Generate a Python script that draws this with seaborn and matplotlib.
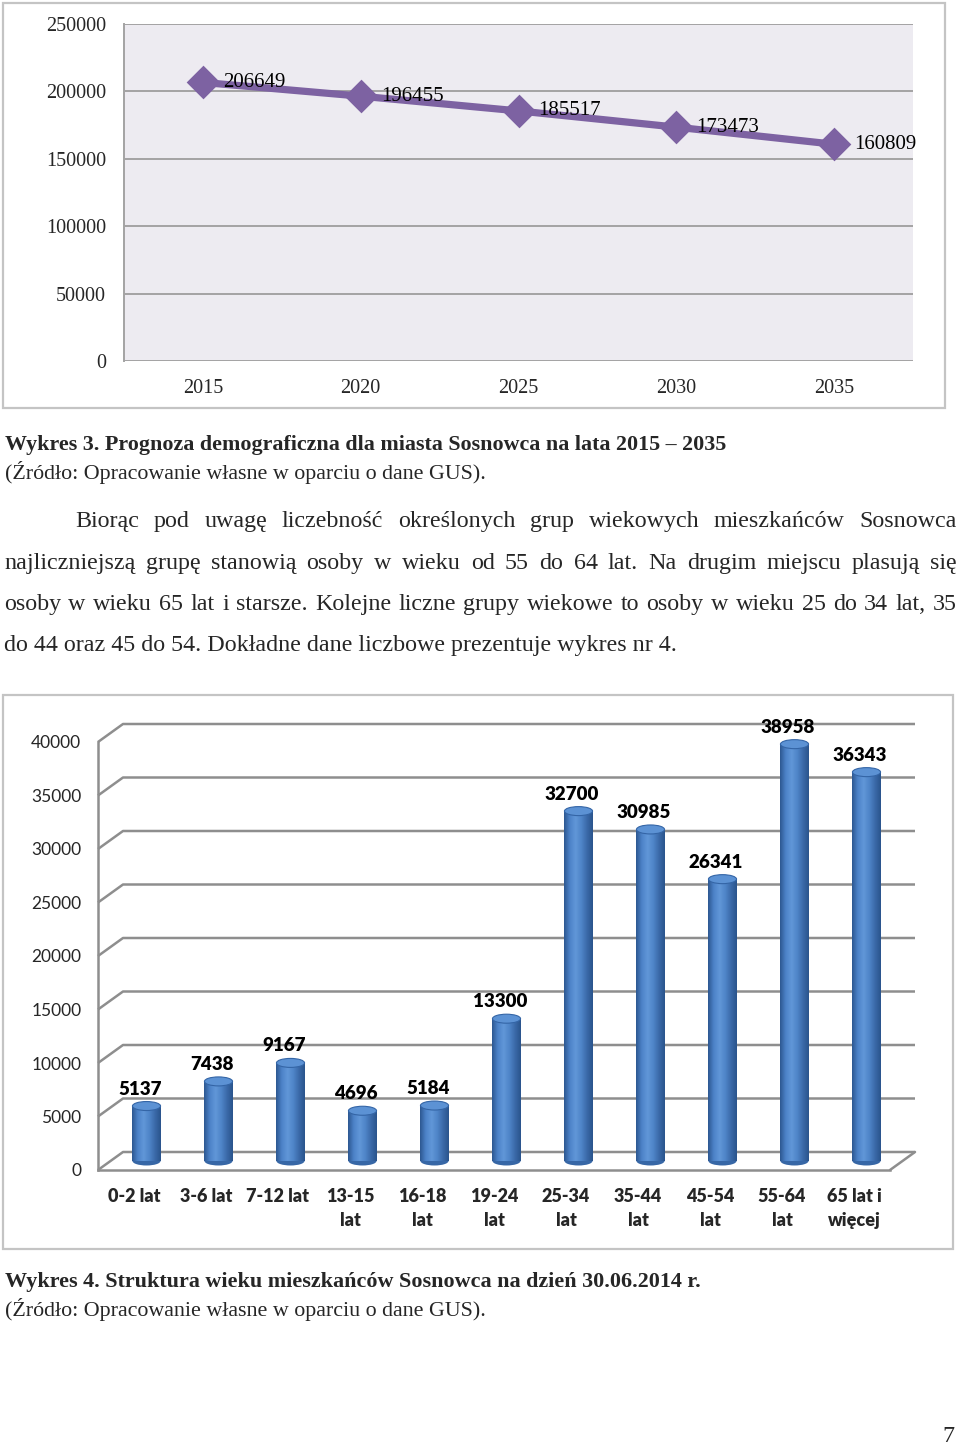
import numpy as np
import pandas as pd
import matplotlib
matplotlib.use("Agg")
import matplotlib.pyplot as plt
import seaborn as sns
import matplotlib.transforms as mtransforms
from matplotlib.patches import Rectangle, Ellipse
from matplotlib.colors import LinearSegmentedColormap

# ---------------- data ----------------
years = ["2015", "2020", "2025", "2030", "2035"]
population = [206649, 196455, 185517, 173473, 160809]
pop_ticks = [0, 50000, 100000, 150000, 200000, 250000]

age_groups = ["0-2 lat", "3-6 lat", "7-12 lat", "13-15\nlat", "16-18\nlat",
              "19-24\nlat", "25-34\nlat", "35-44\nlat", "45-54\nlat",
              "55-64\nlat", "65 lat i\nwięcej"]
residents = [5137, 7438, 9167, 4696, 5184, 13300, 32700, 30985, 26341, 38958, 36343]
age_ticks = [0, 5000, 10000, 15000, 20000, 25000, 30000, 35000, 40000]

caption3 = "Wykres 3. Prognoza demograficzna dla miasta Sosnowca na lata 2015 – 2035"
source = "(Źródło: Opracowanie własne w oparciu o dane GUS)."
caption4 = "Wykres 4. Struktura wieku mieszkańców Sosnowca na dzień 30.06.2014 r."
paragraph = [
    "Biorąc pod uwagę liczebność określonych grup wiekowych mieszkańców Sosnowca",
    "najliczniejszą grupę stanowią osoby w wieku od 55 do 64 lat. Na drugim miejscu plasują się",
    "osoby w wieku 65 lat i starsze. Kolejne liczne grupy wiekowe to osoby w wieku 25 do 34 lat, 35",
    "do 44 oraz 45 do 54. Dokładne dane liczbowe prezentuje wykres nr 4.",
]
page_no = "7"

# ---------------- setup ----------------
sns.set_theme(style="white")
SERIF = ["Liberation Serif", "DejaVu Serif"]
SANS = ["Lato", "DejaVu Sans"]
plt.rcParams["font.family"] = SERIF

W, H = 960, 1450
fig = plt.figure(figsize=(W / 100, H / 100), dpi=100)
fig.patch.set_facecolor("white")
renderer = fig.canvas.get_renderer()


def fx(px):
    return px / W


def fy(py):
    return 1 - py / H


def frame(x0, y0, x1, y1):
    fig.patches.append(Rectangle((fx(x0), fy(y1)), fx(x1) - fx(x0), fy(y0) - fy(y1),
                                 transform=fig.transFigure, fill=False,
                                 ec="#C4C4C4", lw=1.6))


def fit_size(text, target, weight="normal", base=10.0):
    t = fig.text(0, 0, text, fontsize=base, family=SERIF, fontweight=weight)
    w = t.get_window_extent(renderer).width
    t.remove()
    return base * target / w


GRID = "#8E8E8E"

# ---------------- chart 1 : line ----------------
frame(3, 3, 945, 408)
ax1 = fig.add_axes([fx(124), fy(361), fx(913) - fx(124), fy(24) - fy(361)])
ax1.set_facecolor("#EDEBF1")
sns.pointplot(x=years, y=population, ax=ax1, color="#7D62A2", markers="D",
              linestyles="-", errorbar=None, markersize=13, linewidth=5.2)
ax1.set_xlim(-0.5, 4.5)
ax1.set_ylim(0, 250000)
ax1.set_yticks(pop_ticks)
ax1.set_yticklabels([str(t) for t in pop_ticks], family=SERIF, fontsize=14.5)
ax1.set_xticks(range(len(years)))
ax1.set_xticklabels(years, family=SERIF, fontsize=14.5)
ax1.yaxis.grid(True, color="#A3A3A3", lw=1.4)
ax1.set_axisbelow(True)
ax1.tick_params(axis="y", length=0, pad=13)
ax1.tick_params(axis="x", length=0, pad=13)
ax1.set_xlabel("")
ax1.set_ylabel("")
for s in ["top", "right", "bottom"]:
    ax1.spines[s].set_visible(False)
ax1.spines["left"].set_color("#A3A3A3")
ax1.spines["left"].set_linewidth(1.4)
for i, v in enumerate(population):
    ax1.annotate(f"{v}", (i, v), xytext=(14.5, 0), textcoords="offset points",
                 ha="left", va="center", family=SERIF, fontsize=15, color="black")

# ---------------- texts ----------------
cap_size = fit_size(caption3, 722, weight="bold")
src_size = fit_size(source, 483)
body_size = fit_size(paragraph[3], 673)

fig.text(fx(5), fy(450), caption3, family=SERIF, fontweight="bold",
         fontsize=cap_size, va="baseline", ha="left")
fig.text(fx(5), fy(479), source, family=SERIF, fontsize=src_size, va="baseline", ha="left")


def justify(line, x0, x1, y_base, size):
    words = line.split(" ")
    texts = [fig.text(0, 0, w, family=SERIF, fontsize=size, va="baseline", ha="left")
             for w in words]
    widths = [t.get_window_extent(renderer).width for t in texts]
    gap = (x1 - x0 - sum(widths)) / (len(words) - 1)
    x = x0
    for t, w in zip(texts, widths):
        t.set_position((fx(x), fy(y_base)))
        x += w + gap


justify(paragraph[0], 75, 957, 527, body_size)
justify(paragraph[1], 4, 957, 569, body_size)
justify(paragraph[2], 4, 957, 610, body_size)
fig.text(fx(4), fy(651), paragraph[3], family=SERIF, fontsize=body_size,
         va="baseline", ha="left")

fig.text(fx(5), fy(1287), caption4, family=SERIF, fontweight="bold",
         fontsize=fit_size(caption4, 696, weight="bold"), va="baseline", ha="left")
fig.text(fx(5), fy(1316), source, family=SERIF, fontsize=src_size, va="baseline", ha="left")
fig.text(fx(955), fy(1436), page_no, family=SERIF, fontsize=body_size,
         va="center", ha="right")

# ---------------- chart 2 : pseudo-3D bars ----------------
frame(3, 695, 953, 1249)
ax_l, ax_r, ax_b, ax_t = 98, 890, 1170, 742
ax2 = fig.add_axes([fx(ax_l), fy(ax_b), fx(ax_r) - fx(ax_l), fy(ax_t) - fy(ax_b)])
ax2.patch.set_visible(False)

n = len(age_groups)
ymax = 40000
px_per_x = (ax_r - ax_l) / n
px_per_y = (ax_b - ax_t) / ymax
DEPTH_X, DEPTH_Y = 25, 18          # back-wall depth in pixels
dxd = DEPTH_X / px_per_x
dyd = DEPTH_Y / px_per_y

sns.barplot(x=age_groups, y=residents, ax=ax2, color="#4A7EC3", width=0.39,
            saturation=1, errorbar=None, zorder=3)
bars = list(ax2.patches)

ax2.set_xlim(-0.5, n - 0.5)
ax2.set_ylim(0, ymax)

# back wall grid lines (with depth)
for t in age_ticks:
    ax2.plot([-0.5, -0.5 + dxd, n - 0.5 + dxd], [t, t + dyd, t + dyd],
             color=GRID, lw=1.8, clip_on=False, zorder=1, solid_capstyle="butt")
ax2.plot([n - 0.5, n - 0.5 + dxd], [0, dyd], color=GRID, lw=1.8, clip_on=False, zorder=1)

# cylinders
half = mtransforms.ScaledTranslation(DEPTH_X / 2 / 100, DEPTH_Y / 2 / 100, fig.dpi_scale_trans)
cyl = LinearSegmentedColormap.from_list(
    "cyl", ["#2C5790", "#4C82C8", "#6197D8", "#4F85C8", "#3A69A8", "#2A548C"])
grad = np.linspace(0, 1, 256).reshape(1, -1)
ell_h = 9 / px_per_y
for p in bars:
    p.set_transform(ax2.transData + half)
    p.set_clip_on(False)
    p.set_edgecolor("none")
    x0 = p.get_x()
    w = p.get_width()
    h = p.get_height()
    cx = x0 + w / 2
    im = ax2.imshow(grad, extent=[x0, x0 + w, 0, h], cmap=cyl, aspect="auto",
                    interpolation="bilinear", zorder=3.1,
                    transform=ax2.transData + half)
    im.set_clip_path(p)
    bottom = Ellipse((cx, 0), w, ell_h, transform=ax2.transData + half,
                     fc="#3767A6", ec="none", zorder=2.9, clip_on=False)
    ax2.add_patch(bottom)
    top = Ellipse((cx, h), w, ell_h, transform=ax2.transData + half,
                  fc="#5C92D4", ec="#3465A6", lw=0.8, zorder=3.3, clip_on=False)
    ax2.add_patch(top)

ax2.set_xlim(-0.5, n - 0.5)
ax2.set_ylim(0, ymax)

for i, v in enumerate(residents):
    ax2.annotate(f"{v}", (i, v), xytext=(4.3, 18.7), textcoords="offset points",
                 ha="center", va="center", family=SANS, fontweight="heavy",
                 fontsize=13.5, color="black", annotation_clip=False, zorder=5)

ax2.set_yticks(age_ticks)
ax2.set_yticklabels([str(t) for t in age_ticks], family=SANS, fontsize=12.5)
ax2.set_xticks(range(n))
ax2.set_xticklabels(age_groups, family=SANS, fontweight="heavy", fontsize=13,
                    linespacing=1.5, va="top")
ax2.set_xticks(np.arange(-0.5, n, 1.0), minor=True)
ax2.tick_params(axis="x", which="major", length=0, pad=13)
ax2.tick_params(axis="x", which="minor", length=5, width=1.6, color=GRID)
ax2.tick_params(axis="y", length=5, width=1.6, color=GRID, pad=7)
ax2.set_xlabel("")
ax2.set_ylabel("")
for s in ["top", "right"]:
    ax2.spines[s].set_visible(False)
for s in ["left", "bottom"]:
    ax2.spines[s].set_color(GRID)
    ax2.spines[s].set_linewidth(1.8)
    ax2.spines[s].set_zorder(1)

fig.savefig("out.png", dpi=100, facecolor="white")
